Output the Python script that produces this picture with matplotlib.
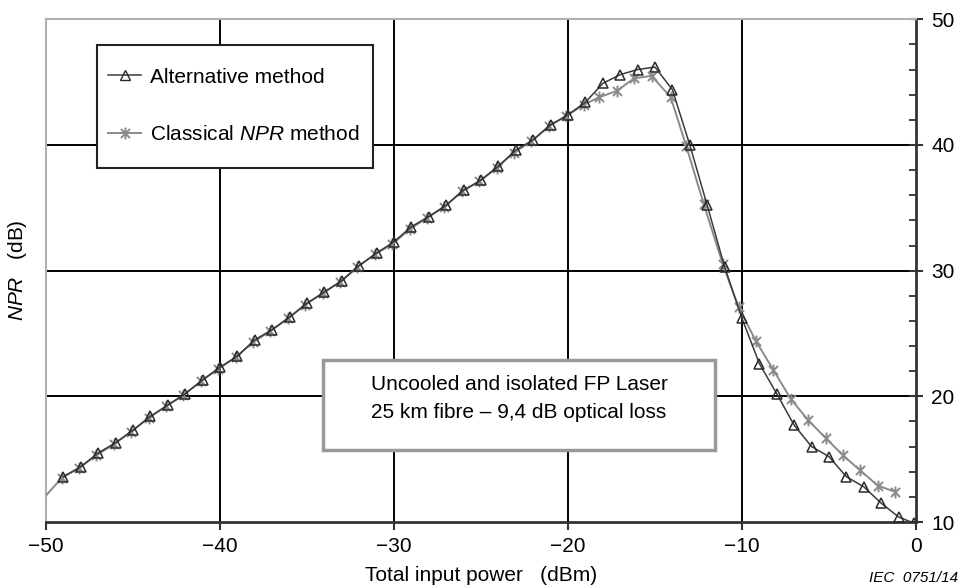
import matplotlib
matplotlib.use("Agg")
import matplotlib.pyplot as plt
from matplotlib.path import Path
from matplotlib.patches import Rectangle
from matplotlib.lines import Line2D

plt.rcParams['font.family'] = ['Liberation Sans', 'DejaVu Sans']
plt.rcParams['mathtext.fontset'] = 'custom'
plt.rcParams['mathtext.it'] = 'Liberation Sans:italic'
plt.rcParams['mathtext.rm'] = 'Liberation Sans'

# ---- data ----
alt_x = [-49, -48, -47, -46, -45, -44, -43, -42, -41, -40,
         -39, -38, -37, -36, -35, -34, -33, -32, -31, -30,
         -29, -28, -27, -26, -25, -24, -23, -22, -21, -20,
         -19, -18, -17, -16, -15, -14, -13, -12, -11, -10,
         -9, -8, -7, -6, -5, -4, -3, -2, -1, -0.1]
alt_y = [13.6, 14.4, 15.5, 16.3, 17.3, 18.4, 19.3, 20.2, 21.3, 22.3,
         23.2, 24.5, 25.3, 26.3, 27.4, 28.3, 29.2, 30.4, 31.4, 32.3,
         33.5, 34.3, 35.2, 36.4, 37.2, 38.3, 39.6, 40.4, 41.6, 42.4,
         43.4, 44.9, 45.6, 46.0, 46.2, 44.4, 40.0, 35.2, 30.3, 26.2,
         22.6, 20.2, 17.7, 16.0, 15.2, 13.6, 12.8, 11.5, 10.4, 9.9]

cla_x = [-50.2, -49.1, -48.1, -47.1, -46.1, -45.1, -44.1, -43.1, -42.1, -41.1, -40.1,
         -39.1, -38.1, -37.1, -36.1, -35.1, -34.1, -33.1, -32.1, -31.1, -30.1,
         -29.1, -28.1, -27.1, -26.1, -25.1, -24.1, -23.1, -22.1, -21.1, -20.1,
         -19.1, -18.2, -17.2, -16.2, -15.2, -14.1, -13.2, -12.2, -11.1, -10.2,
         -9.2, -8.2, -7.2, -6.2, -5.2, -4.2, -3.2, -2.2, -1.2]
cla_y = [11.8, 13.5, 14.3, 15.3, 16.2, 17.2, 18.3, 19.2, 20.1, 21.2, 22.2,
         23.1, 24.3, 25.2, 26.2, 27.3, 28.2, 29.1, 30.3, 31.3, 32.1,
         33.3, 34.2, 35.1, 36.3, 37.1, 38.2, 39.4, 40.3, 41.5, 42.3,
         43.2, 43.8, 44.3, 45.3, 45.5, 43.8, 39.9, 35.3, 30.5, 27.1,
         24.4, 22.1, 19.8, 18.1, 16.7, 15.3, 14.1, 12.9, 12.4]

x_ticks = [-50, -40, -30, -20, -10, 0]
x_ticklabels = ['\u221250', '\u221240', '\u221230', '\u221220', '\u221210', '0']
y_ticks = [10, 20, 30, 40, 50]

FS = 15

# ---- figure ----
fig = plt.figure(figsize=(9.6, 5.86), dpi=100)
ax = fig.add_axes([46/960, 1-522/586, 870/960, (522-19.3)/586])
ax.set_xlim(-50, 0)
ax.set_ylim(10, 50)

for xv in [-40, -30, -20, -10]:
    ax.axvline(xv, color='black', lw=1.4, zorder=1)
for yv in [20, 30, 40]:
    ax.axhline(yv, color='black', lw=1.4, zorder=1)

star = Path([(-1, -1), (1, 1), (-1, 1), (1, -1), (0, -1.3), (0, 1.3)],
            [Path.MOVETO, Path.LINETO, Path.MOVETO, Path.LINETO, Path.MOVETO, Path.LINETO])

ax.plot(cla_x, cla_y, color='#8a8a8a', lw=1.4, marker=star, markersize=8.5,
        markeredgecolor='#8a8a8a', markeredgewidth=1.4, markevery=slice(1, None),
        zorder=3, clip_on=True)
ax.plot(alt_x, alt_y, color='#3a3a3a', lw=1.1, marker='^', markersize=7,
        markerfacecolor='none', markeredgecolor='#2a2a2a', markeredgewidth=1.1,
        zorder=4, clip_on=True)

# spines
ax.spines['left'].set_color('#b0b0b0')
ax.spines['left'].set_linewidth(1.5)
ax.spines['top'].set_color('#b0b0b0')
ax.spines['top'].set_linewidth(1.5)
ax.spines['bottom'].set_color('#333333')
ax.spines['bottom'].set_linewidth(2.0)
ax.spines['right'].set_color('#333333')
ax.spines['right'].set_linewidth(2.0)

ax.set_xticks(x_ticks)
ax.set_xticklabels(x_ticklabels)
ax.tick_params(axis='x', direction='out', length=6, width=1.5, color='#333333',
               labelsize=FS, pad=5)
ax.yaxis.tick_right()
ax.yaxis.set_label_position('left')
ax.set_yticks(y_ticks)
ax.set_yticks(list(range(12, 50, 2)), minor=True)
ax.tick_params(axis='y', which='major', direction='inout', length=10, width=1.5,
               color='#333333', labelsize=FS, pad=6)
ax.tick_params(axis='y', which='minor', direction='in', length=5, width=1.3,
               color='#333333')

ax.set_xlabel('Total input power   (dBm)', fontsize=FS, labelpad=7)
fig.text(18/960, 1-270/586, r'$\it{NPR}$   (dB)', rotation=90, fontsize=FS,
         ha='center', va='center')
fig.text(958/960, 1-578/586, 'IEC  0751/14', fontsize=11, style='italic',
         ha='right', va='center')

# legend box
lx0, lx1 = (96.7-46)/870, (373-46)/870
ly0, ly1 = (522-168)/502.7, (522-45)/502.7
ax.add_patch(Rectangle((lx0, ly0), lx1-lx0, ly1-ly0, transform=ax.transAxes,
                       facecolor='white', edgecolor='#222222', lw=1.5, zorder=5))
h1 = Line2D([], [], color='#3a3a3a', lw=1.1, marker='^', markersize=7,
            markerfacecolor='none', markeredgecolor='#2a2a2a')
h2 = Line2D([], [], color='#8a8a8a', lw=1.4, marker=star, markersize=8.5,
            markeredgecolor='#8a8a8a', markeredgewidth=1.4)
leg = ax.legend([h1, h2], ['Alternative method', r'Classical $\it{NPR}$ method'],
                loc='upper left', bbox_to_anchor=(lx0 - 0.006, ly1 - 0.012),
                frameon=False, fontsize=FS, handlelength=1.6, handletextpad=0.4,
                labelspacing=1.85, borderpad=0.3)
leg.set_zorder(6)

# annotation box
bx0, bx1 = (323-46)/870, (715-46)/870
by0, by1 = (522-450)/502.7, (522-360)/502.7
ax.add_patch(Rectangle((bx0, by0), bx1-bx0, by1-by0, transform=ax.transAxes,
                       facecolor='white', edgecolor='#999999', lw=2.5, zorder=5))
ax.text((bx0+bx1)/2, (522-385)/502.7, 'Uncooled and isolated FP Laser',
        transform=ax.transAxes, ha='center', va='center', fontsize=FS, zorder=6)
ax.text((bx0+bx1)/2, (522-413)/502.7, '25 km fibre \u2013 9,4 dB optical loss',
        transform=ax.transAxes, ha='center', va='center', fontsize=FS, zorder=6)

fig.savefig('out.png', dpi=100)
